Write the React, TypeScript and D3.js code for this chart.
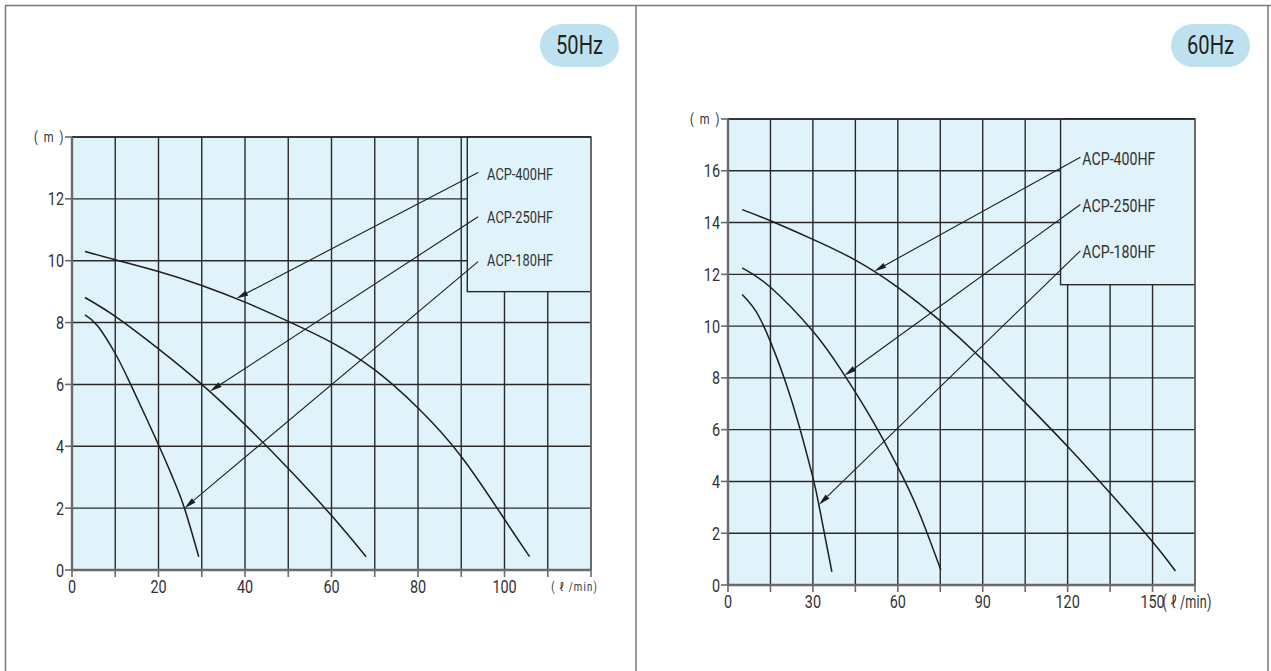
import React from "react";
import * as d3 from "d3";

// ---------- DATA ----------
const models = ["ACP-400HF", "ACP-250HF", "ACP-180HF"];

// 50Hz curves: [flow (l/min), head (m)]
const hz50_400: [number, number][] = [[3, 10.3], [10, 10.03], [20, 9.65], [30, 9.2], [40, 8.66], [50, 8.04], [60, 7.36], [70, 6.47], [80, 5.24], [90, 3.67], [100, 1.64], [105.8, 0.43]];
const hz50_250: [number, number][] = [[3, 8.81], [10, 8.2], [20, 7.15], [30, 6.0], [40, 4.7], [50, 3.28], [60, 1.76], [68, 0.43]];
const hz50_180: [number, number][] = [[3, 8.25], [6, 7.88], [10, 7.0], [13.4, 6.05], [20, 4.05], [23.4, 2.95], [26, 2.0], [29.3, 0.43]];

// 60Hz curves
const hz60_400: [number, number][] = [[5, 14.5], [15, 14.07], [30, 13.35], [45, 12.55], [60, 11.5], [75, 10.2], [90, 8.7], [105, 7.05], [120, 5.35], [135, 3.55], [150, 1.67], [158.1, 0.54]];
const hz60_250: [number, number][] = [[5, 12.25], [15, 11.5], [30, 9.8], [40, 8.3], [50, 6.55], [60, 4.55], [67.5, 2.8], [75.2, 0.58]];
const hz60_180: [number, number][] = [[5, 11.22], [10, 10.55], [15, 9.4], [20, 7.95], [25, 6.2], [30, 4.15], [32.1, 3.1], [36.7, 0.51]];

// arrow tips (on the curves) and leader-line label ends, in data units
const hz50_tips: [number, number][] = [[38, 8.78], [31.9, 5.78], [26, 2.0]];
const hz50_labelEnds: [number, number][] = [[93.9, 12.85], [93.9, 11.42], [93.9, 9.97]];
const hz60_tips: [number, number][] = [[51.7, 12.12], [41.2, 8.09], [32.1, 3.1]];
const hz60_labelEnds: [number, number][] = [[124.5, 16.52], [124.5, 14.7], [124.5, 12.91]];

// ticks
const hz50_xTickLabels = [0, 20, 40, 60, 80, 100];
const hz50_yTickLabels = [0, 2, 4, 6, 8, 10, 12];
const hz60_xTickLabels = [0, 30, 60, 90, 120, 150];
const hz60_yTickLabels = [0, 2, 4, 6, 8, 10, 12, 14, 16];

// ---------- STYLE ----------
const FONT = "Roboto, 'Liberation Sans', sans-serif";
const PLOT_BG = "#E0F2FA";
const GRID = "#2a2a2a";
const AXIS = "#6a6a6a";
const TXT = "#333";

type Panel = {
  title: string;
  badgeX: number;
  xMax: number;
  yMax: number;
  xStep: number;
  yStep: number;
  xRange: [number, number];
  yRange: [number, number];
  curves: [number, number][][];
  tips: [number, number][];
  labelEnds: [number, number][];
  xLabels: number[];
  yLabels: number[];
  box: { x0: number; y0: number };
  labelSize: number;
  labelLen: number;
  labelBaselines: number[];
  labelDx: number;
  unitStyle: "small" | "big";
};

const panels: Panel[] = [
  {
    title: "50Hz",
    badgeX: 540,
    xMax: 120,
    yMax: 14,
    xStep: 10,
    yStep: 2,
    xRange: [72, 591],
    yRange: [570, 137],
    curves: [hz50_400, hz50_250, hz50_180],
    tips: hz50_tips,
    labelEnds: hz50_labelEnds,
    xLabels: hz50_xTickLabels,
    yLabels: hz50_yTickLabels,
    box: { x0: 91.4, y0: 9.0 },
    labelSize: 17,
    labelLen: 66,
    labelBaselines: [180, 223, 266],
    labelDx: 9,
    unitStyle: "small",
  },
  {
    title: "60Hz",
    badgeX: 1171,
    xMax: 165,
    yMax: 18,
    xStep: 15,
    yStep: 2,
    xRange: [728, 1195],
    yRange: [585, 119],
    curves: [hz60_400, hz60_250, hz60_180],
    tips: hz60_tips,
    labelEnds: hz60_labelEnds,
    xLabels: hz60_xTickLabels,
    yLabels: hz60_yTickLabels,
    box: { x0: 117.5, y0: 11.6 },
    labelSize: 18,
    labelLen: 73,
    labelBaselines: [165, 211.5, 258],
    labelDx: 2,
    unitStyle: "big",
  },
];

function CText(props: { x: number; y: number; size: number; anchor?: string; sx?: number; children: React.ReactNode; spacing?: number }) {
  const { x, y, size, anchor = "start", sx = 0.8, children, spacing = 0 } = props;
  return (
    <text
      transform={`translate(${x},${y}) scale(${sx},1)`}
      textAnchor={anchor}
      fontFamily={FONT}
      fontSize={size}
      fill={TXT}
      letterSpacing={spacing}
    >
      {children}
    </text>
  );
}

function PanelView({ p }: { p: Panel }) {
  const x = d3.scaleLinear().domain([0, p.xMax]).range(p.xRange);
  const y = d3.scaleLinear().domain([0, p.yMax]).range(p.yRange);
  const xGrid = d3.range(p.xStep, p.xMax + 0.001, p.xStep);
  const yGrid = d3.range(p.yStep, p.yMax + 0.001, p.yStep);
  const line = d3
    .line<[number, number]>()
    .x((d) => x(d[0]))
    .y((d) => y(d[1]))
    .curve(d3.curveNatural);

  const [x0, x1] = p.xRange;
  const [yb, yt] = p.yRange;
  const bx = x(p.box.x0);
  const by = y(p.box.y0);

  return (
    <g>
      {/* plot background */}
      <rect x={x0} y={yt} width={x1 - x0} height={yb - yt} fill={PLOT_BG} />
      {/* grid */}
      {xGrid.map((v) => (
        <line key={"gx" + v} x1={x(v)} x2={x(v)} y1={yb} y2={yt} stroke={v === p.xMax ? AXIS : GRID} strokeWidth={v === p.xMax ? 2 : 1.4} />
      ))}
      {yGrid.map((v) => (
        <line key={"gy" + v} x1={x0} x2={x1} y1={y(v)} y2={y(v)} stroke={GRID} strokeWidth={1.4} />
      ))}
      {/* legend box */}
      <rect x={bx} y={yt} width={x1 - bx} height={by - yt} fill={PLOT_BG} stroke={GRID} strokeWidth={1.4} />
      <line x1={x1} x2={x1} y1={yt} y2={yb} stroke={AXIS} strokeWidth={2} />
      <line x1={x0} x2={x1} y1={yt} y2={yt} stroke={GRID} strokeWidth={1.6} />
      {/* axes */}
      <line x1={x0} x2={x0} y1={yb} y2={yt} stroke={AXIS} strokeWidth={2.4} />
      <line x1={x0} x2={x1} y1={yb} y2={yb} stroke={AXIS} strokeWidth={2.4} />
      {/* x ticks */}
      {[0, ...xGrid].map((v) => (
        <line key={"tx" + v} x1={x(v)} x2={x(v)} y1={yb} y2={yb + 7} stroke={AXIS} strokeWidth={1.6} />
      ))}
      {/* y ticks */}
      {[...p.yLabels, p.yMax].map((v) => (
        <line key={"ty" + v} x1={x0 - 7} x2={x0} y1={y(v)} y2={y(v)} stroke={AXIS} strokeWidth={1.6} />
      ))}
      {p.xLabels.map((v) => (
        <CText key={"lx" + v} x={x(v)} y={yb + 23} size={18} anchor="middle">
          {v}
        </CText>
      ))}
      {p.yLabels.map((v) => (
        <CText key={"ly" + v} x={x0 - 8} y={y(v) + 6.5} size={18} anchor="end">
          {v}
        </CText>
      ))}
      <CText x={x0 - 7} y={yt + 5} size={14} anchor="end" spacing={2}>
        ( m )
      </CText>
      {p.unitStyle === "small" ? (
        <CText x={x1 + 7} y={yb + 21} size={12} anchor="end" sx={0.8} spacing={1.5}>
          ( ℓ /min)
        </CText>
      ) : (
        <CText x={x(150) + 10} y={yb + 23} size={18} anchor="start" sx={0.7} spacing={0.3}>
          ( ℓ /min)
        </CText>
      )}
      {/* curves */}
      {p.curves.map((c, i) => (
        <path key={"c" + i} d={line(c) || ""} fill="none" stroke="#1e1e1e" strokeWidth={1.5} />
      ))}
      {/* leaders + arrows + labels */}
      {p.tips.map((t, i) => {
        const tx = x(t[0]);
        const ty = y(t[1]);
        const lx = x(p.labelEnds[i][0]);
        const ly = y(p.labelEnds[i][1]);
        const dx = tx - lx;
        const dy = ty - ly;
        const len = Math.hypot(dx, dy);
        const ux = dx / len;
        const uy = dy / len;
        const aL = 12;
        const aW = 2.8;
        const bxp = tx - ux * aL;
        const byp = ty - uy * aL;
        const pts = [
          [tx, ty],
          [bxp - uy * aW, byp + ux * aW],
          [bxp + uy * aW, byp - ux * aW],
        ]
          .map((q) => q.join(","))
          .join(" ");
        return (
          <g key={"a" + i}>
            <line x1={lx} y1={ly} x2={bxp} y2={byp} stroke="#1e1e1e" strokeWidth={1.1} />
            <polygon points={pts} fill="#1e1e1e" />
            <text
              x={lx + p.labelDx}
              y={p.labelBaselines[i]}
              fontFamily={FONT}
              fontSize={p.labelSize}
              fill={TXT}
              textLength={p.labelLen}
              lengthAdjust="spacingAndGlyphs"
            >
              {models[i]}
            </text>
          </g>
        );
      })}
      {/* badge */}
      <rect x={p.badgeX} y={24} width={79} height={43} rx={21.5} fill="#BEE1EF" />
      <text
        x={p.badgeX + 39.5}
        y={54}
        textAnchor="middle"
        fontFamily={FONT}
        fontSize={25}
        fill="#222"
        textLength={47}
        lengthAdjust="spacingAndGlyphs"
      >
        {p.title}
      </text>
    </g>
  );
}

export default function App() {
  const W = 1271;
  const H = 671;
  return (
    <svg
      width={W}
      height={H}
      viewBox={`0 0 ${W} ${H}`}
      style={{ position: "absolute", left: 0, top: 0, background: "#fff", display: "block" }}
    >
      <rect x={0} y={0} width={W} height={H} fill="#fff" />
      {/* frame */}
      <line x1={5} x2={W} y1={5.5} y2={5.5} stroke="#7a7a7a" strokeWidth={1.5} />
      <line x1={5.5} x2={5.5} y1={5} y2={H} stroke="#7a7a7a" strokeWidth={1.5} />
      <line x1={636} x2={636} y1={5} y2={H} stroke="#7a7a7a" strokeWidth={1.5} />
      <line x1={1268} x2={1268} y1={5} y2={H} stroke="#7a7a7a" strokeWidth={1.5} />
      {panels.map((p) => (
        <PanelView key={p.title} p={p} />
      ))}
    </svg>
  );
}
